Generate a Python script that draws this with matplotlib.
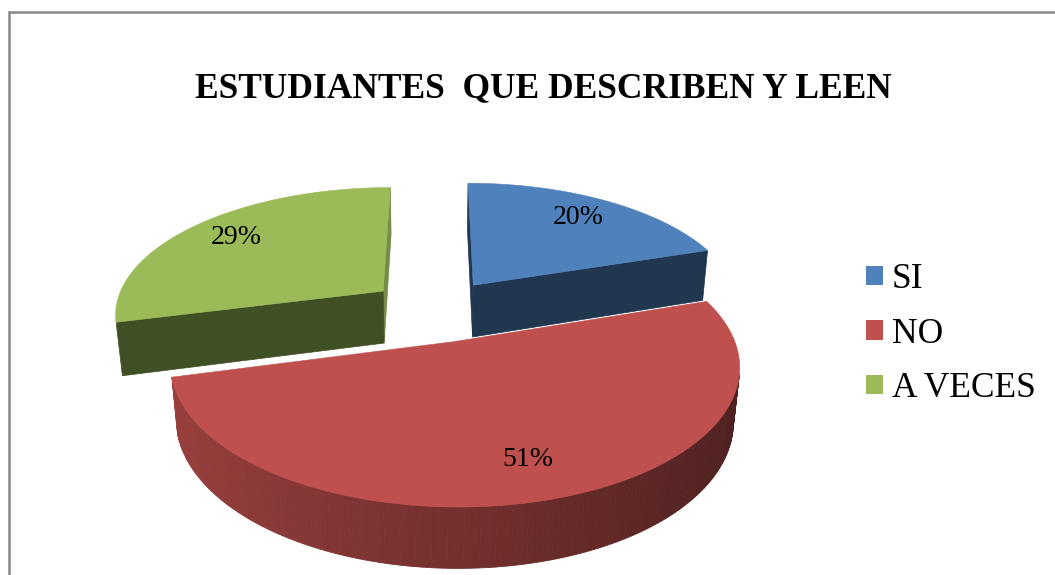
import numpy as np
import matplotlib
matplotlib.use("Agg")
import matplotlib.pyplot as plt
from matplotlib.patches import Polygon, Patch
from matplotlib.colors import to_rgb

titulo = "ESTUDIANTES  QUE DESCRIBEN Y LEEN"
categorias = ["SI", "NO", "A VECES"]
porcentajes = [20, 51, 29]
colores = ["#4F81BD", "#C0504D", "#9BBB59"]

# vista 3D tipo Excel (ajustada a ojo, en pixeles)
X0, Y0 = 435, 310
K, D = 1440, 5.35
phi = np.radians(28)
H = 0.227
EXPLODE = 0.25
S, C = np.sin(phi), np.cos(phi)
CAM = np.array([0, D * S, -D * C])


def proj(p):
    x, y, z = p
    w = D + z * C - y * S
    return (X0 + K * x / w, Y0 - K * (y * C + z * S) / w)


def visible(normal, punto):
    return np.dot(normal, CAM - np.array(punto)) > 0


def sombra(color, f):
    return tuple(np.clip(np.array(to_rgb(color)) * f, 0, 1))


fig = plt.figure(figsize=(10.55, 5.75), dpi=100)
ax = fig.add_axes([0, 0, 1, 1])
ax.set_xlim(0, 1055)
ax.set_ylim(575, 0)
ax.axis("off")

fr = np.array(porcentajes, dtype=float) / sum(porcentajes)
ini = 90 - 360 * np.concatenate([[0], np.cumsum(fr)[:-1]])
fin = ini - 360 * fr
mid = np.radians((ini + fin) / 2)

# orden de dibujo: de atras hacia adelante
prof = []
for i in range(len(fr)):
    ox, oz = EXPLODE * np.cos(mid[i]), EXPLODE * np.sin(mid[i])
    c = np.array([ox + 0.5 * np.cos(mid[i]), 0, oz + 0.5 * np.sin(mid[i])])
    prof.append(np.linalg.norm(CAM - c))
orden = np.argsort(prof)[::-1]

for i in orden:
    col = colores[i]
    ox, oz = EXPLODE * np.cos(mid[i]), EXPLODE * np.sin(mid[i])
    t = np.radians(np.linspace(fin[i], ini[i], 200))

    # caras radiales
    for ae, na in [(np.radians(fin[i]), np.radians(fin[i] - 90)),
                   (np.radians(ini[i]), np.radians(ini[i] + 90))]:
        n = np.array([np.cos(na), 0, np.sin(na)])
        cen = (ox + 0.5 * np.cos(ae), -H / 2, oz + 0.5 * np.sin(ae))
        if not visible(n, cen):
            continue
        cara = [(ox, 0, oz), (ox + np.cos(ae), 0, oz + np.sin(ae)),
                (ox + np.cos(ae), -H, oz + np.sin(ae)), (ox, -H, oz)]
        f = 0.42 if n[0] < 0.6 else 0.75
        ax.add_patch(Polygon([proj(p) for p in cara], closed=True,
                             facecolor=sombra(col, f), edgecolor=sombra(col, f), lw=0.5))

    # pared exterior
    for j in range(len(t) - 1):
        a0, a1 = t[j], t[j + 1]
        am = (a0 + a1) / 2
        n = np.array([np.cos(am), 0, np.sin(am)])
        if not visible(n, (ox + np.cos(am), -H / 2, oz + np.sin(am))):
            continue
        cara = [(ox + np.cos(a0), 0, oz + np.sin(a0)), (ox + np.cos(a1), 0, oz + np.sin(a1)),
                (ox + np.cos(a1), -H, oz + np.sin(a1)), (ox + np.cos(a0), -H, oz + np.sin(a0))]
        f = 0.6 - 0.2 * np.cos(am)
        ax.add_patch(Polygon([proj(p) for p in cara], closed=True,
                             facecolor=sombra(col, f), edgecolor=sombra(col, f), lw=0.6))

    # cara superior
    tapa = [(ox, 0, oz)] + [(ox + np.cos(a), 0, oz + np.sin(a)) for a in t]
    ax.add_patch(Polygon([proj(p) for p in tapa], closed=True,
                         facecolor=col, edgecolor=col, lw=0.4))

    # etiqueta
    lx, ly = proj((ox + 0.78 * np.cos(mid[i]), 0, oz + 0.78 * np.sin(mid[i])))
    ax.text(lx, ly, f"{porcentajes[i]}%", ha="center", va="center",
            fontsize=20, family="Liberation Serif", color="black")

ax.text(543, 97, titulo, ha="center", va="baseline", fontsize=25.5,
        fontweight="bold", family="Liberation Serif")

handles = [Patch(facecolor=c, edgecolor="none") for c in colores]
ax.legend(handles, categorias, loc="upper left",
          bbox_to_anchor=(866 / 1055, 1 - 263 / 575), frameon=False,
          prop={"family": "Liberation Serif", "size": 25.5},
          handlelength=0.48, handleheight=0.48, handletextpad=0.25,
          labelspacing=0.61, borderpad=0, borderaxespad=0)

# marco del grafico
ax.plot([9, 9, 1070], [590, 12, 12], color="#878787", lw=1.8,
        solid_joinstyle="miter", clip_on=False)

fig.savefig("out.png", dpi=100)
